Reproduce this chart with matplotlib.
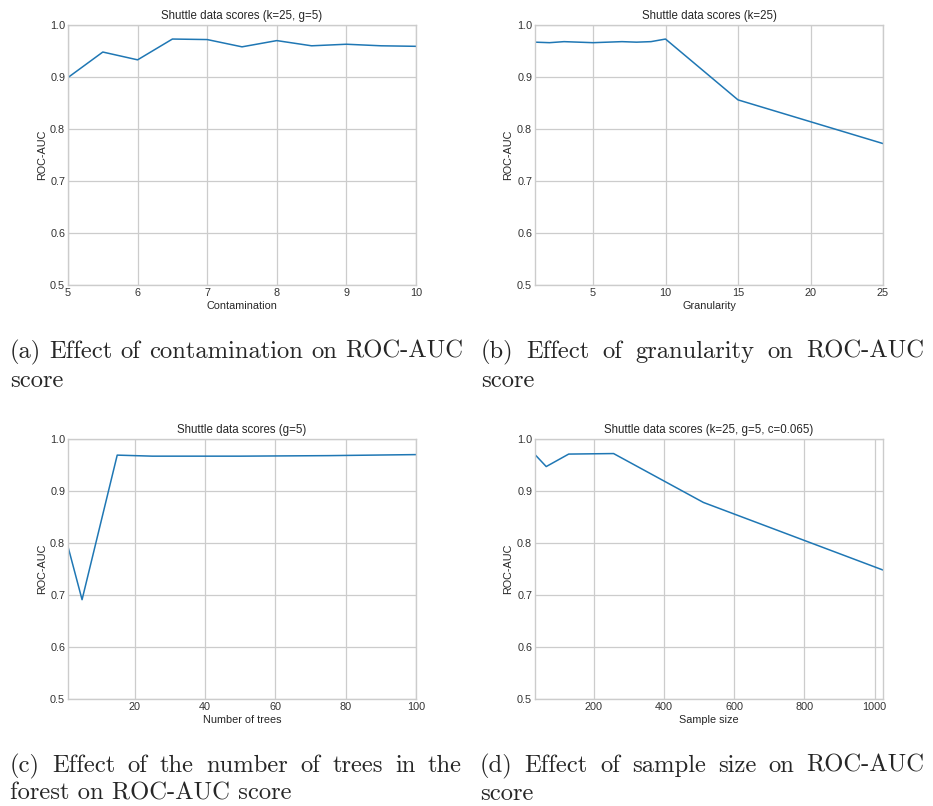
import matplotlib
matplotlib.use("Agg")
import matplotlib.pyplot as plt

# ---------------- data ----------------
contamination = [5, 5.5, 6, 6.5, 7, 7.5, 8, 8.5, 9, 9.5, 10]
auc_contamination = [0.899, 0.948, 0.933, 0.973, 0.972, 0.958, 0.970, 0.960, 0.963, 0.960, 0.959]

granularity = [1, 2, 3, 4, 5, 6, 7, 8, 9, 10, 15, 20, 25]
auc_granularity = [0.967, 0.966, 0.968, 0.967, 0.966, 0.967, 0.968, 0.967, 0.968, 0.973, 0.856, 0.814, 0.772]

n_trees = [1, 5, 15, 25, 50, 75, 100]
auc_trees = [0.793, 0.691, 0.969, 0.967, 0.967, 0.968, 0.970]

sample_size = [32, 64, 128, 256, 512, 1024]
auc_sample = [0.970, 0.947, 0.971, 0.972, 0.878, 0.748]

titles = ["Shuttle data scores (k=25, g=5)", "Shuttle data scores (k=25)",
          "Shuttle data scores (g=5)", "Shuttle data scores (k=25, g=5, c=0.065)"]
xlabels = ["Contamination", "Granularity", "Number of trees", "Sample size"]
xticks = [[5, 6, 7, 8, 9, 10], [5, 10, 15, 20, 25], [20, 40, 60, 80, 100], [200, 400, 600, 800, 1000]]
yticks = [0.5, 0.6, 0.7, 0.8, 0.9, 1.0]

captions = [
    ["(a) Effect of contamination on ROC-AUC", "score"],
    ["(b) Effect of granularity on ROC-AUC", "score"],
    ["(c) Effect of the number of trees in the", "forest on ROC-AUC score"],
    ["(d) Effect of sample size on ROC-AUC", "score"],
]

# ---------------- style ----------------
plt.style.use("seaborn-v0_8-whitegrid")
plt.rcParams["font.family"] = ["Liberation Sans", "DejaVu Sans"]

W, H = 933, 806
fig = plt.figure(figsize=(W / 100, H / 100), dpi=100)

def px_axes(l, t, r, b):
    return fig.add_axes([l / W, 1 - b / H, (r - l) / W, (b - t) / H])

boxes = [(68, 25, 416, 285), (535, 25, 883, 285), (68, 439, 416, 699), (535, 439, 883, 699)]
xs = [contamination, granularity, n_trees, sample_size]
ys = [auc_contamination, auc_granularity, auc_trees, auc_sample]

for i in range(4):
    ax = px_axes(*boxes[i])
    ax.plot(xs[i], ys[i], color="#1f77b4", lw=1.1)
    ax.set_xlim(min(xs[i]), max(xs[i]))
    ax.set_ylim(0.5, 1.0)
    ax.set_xticks(xticks[i])
    ax.set_yticks(yticks)
    ax.tick_params(labelsize=7.8, colors="#333333", pad=2)
    ax.set_title(titles[i], fontsize=8.3, color="#262626", pad=4)
    ax.set_xlabel(xlabels[i], fontsize=7.8, color="#262626", labelpad=2)
    ax.set_ylabel("ROC-AUC", fontsize=7.8, color="#262626", labelpad=2.5)
    ax.grid(True, color="#cccccc", lw=0.9)
    for s in ax.spines.values():
        s.set_color("#cccccc")
        s.set_linewidth(1.0)

# ---------------- captions (justified, LaTeX-like) ----------------
cap_font = "cmr10"
cap_pos = [(10, 463, 358, 387), (481, 924, 358, 387), (10, 462, 772, 800), (480, 924, 772, 800)]

fig.canvas.draw()
renderer = fig.canvas.get_renderer()

# size the caption font so that line (a) fills its width with natural spacing
probe = fig.text(0, 0, captions[0][0], fontsize=10, family=cap_font)
natural = probe.get_window_extent(renderer).width
probe.remove()
cap_size = 10 * (cap_pos[0][1] - cap_pos[0][0]) / natural

def place_justified(words, x0, x1, ybase):
    texts = []
    for w in words:
        t = fig.text(0, 0, w, fontsize=cap_size, family=cap_font, va="baseline", ha="left")
        texts.append(t)
    widths = [t.get_window_extent(renderer).width for t in texts]
    gap = (x1 - x0 - sum(widths)) / max(len(words) - 1, 1)
    x = x0
    for t, w in zip(texts, widths):
        t.set_position((x / W, 1 - ybase / H))
        x += w + gap

for (l1, l2), (x0, x1, y1, y2) in zip(captions, cap_pos):
    place_justified(l1.split(" "), x0, x1, y1)
    fig.text(x0 / W, 1 - y2 / H, l2, fontsize=cap_size, family=cap_font, va="baseline", ha="left")

fig.savefig("out.png", dpi=100)
